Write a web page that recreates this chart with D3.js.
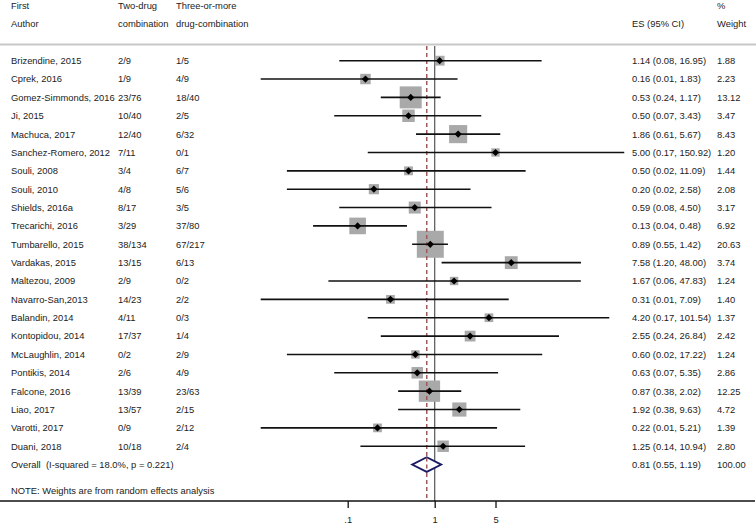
<!DOCTYPE html>
<html><head><meta charset="utf-8">
<script src="https://cdn.jsdelivr.net/npm/d3@7"></script>
<style>body{margin:0;background:#fff}svg{display:block}text{font-family:"Liberation Sans",Arial,sans-serif;font-size:9.4px;fill:#222;white-space:pre}</style>
</head><body><svg id="c" width="756" height="524"></svg>
<script>
const studies = ["Brizendine, 2015","Cprek, 2016","Gomez-Simmonds, 2016","Ji, 2015","Machuca, 2017","Sanchez-Romero, 2012","Souli, 2008","Souli, 2010","Shields, 2016a","Trecarichi, 2016","Tumbarello, 2015","Vardakas, 2015","Maltezou, 2009","Navarro-San,2013","Balandin, 2014","Kontopidou, 2014","McLaughlin, 2014","Pontikis, 2014","Falcone, 2016","Liao, 2017","Varotti, 2017","Duani, 2018"];
const twoDrug = ["2/9","1/9","23/76","10/40","12/40","7/11","3/4","4/8","8/17","3/29","38/134","13/15","2/9","14/23","4/11","17/37","0/2","2/6","13/39","13/57","0/9","10/18"];
const threeDrug = ["1/5","4/9","18/40","2/5","6/32","0/1","6/7","5/6","3/5","37/80","67/217","6/13","0/2","2/2","0/3","1/4","2/9","4/9","23/63","2/15","2/12","2/4"];
const es = [1.14,0.16,0.53,0.50,1.86,5.00,0.50,0.20,0.59,0.13,0.89,7.58,1.67,0.31,4.20,2.55,0.60,0.63,0.87,1.92,0.22,1.25];
const lo = [0.08,0.01,0.24,0.07,0.61,0.17,0.02,0.02,0.08,0.04,0.55,1.20,0.06,0.01,0.17,0.24,0.02,0.07,0.38,0.38,0.01,0.14];
const hi = [16.95,1.83,1.17,3.43,5.67,150.92,11.09,2.58,4.50,0.48,1.42,48.00,47.83,7.09,101.54,26.84,17.22,5.35,2.02,9.63,5.21,10.94];
const weight = [1.88,2.23,13.12,3.47,8.43,1.20,1.44,2.08,3.17,6.92,20.63,3.74,1.24,1.40,1.37,2.42,1.24,2.86,12.25,4.72,1.39,2.80];
const overall = {label:"Overall  (I-squared = 18.0%, p = 0.221)", es:0.81, lo:0.55, hi:1.19, weight:100.00};
const tickValues = [0.1, 1, 5];
const tickLabels = [".1","1","5"];

const svg = d3.select("#c");
const fmt = d3.format(".2f");
const x = d3.scaleLog().domain([0.01,100]).range([260.7,608.7]);
const rowNames = studies.concat(["Overall"]);
const y = d3.scaleBand().domain(rowNames).range([51.5, 51.5+rowNames.length*18.36]).padding(0);
const yc = n => y(n) + y.bandwidth()/2;
const boxSide = w => 2.36 + 5.42*Math.sqrt(w);

// header
const hdr = [[11,"First","Author"],[118,"Two-drug","combination"],[176,"Three-or-more","drug-combination"],[632,"","ES (95% CI)"],[717,"%","Weight"]];
hdr.forEach(h=>{
  svg.append("text").attr("x",h[0]).attr("y",8.6).text(h[1]);
  svg.append("text").attr("x",h[0]).attr("y",26.6).text(h[2]);
});
svg.append("line").attr("x1",0).attr("x2",756).attr("y1",44.5).attr("y2",44.5).attr("stroke","#c8c8c8").attr("stroke-width",2);

const axisY = 501;
// null line
svg.append("line").attr("x1",x(1)).attr("x2",x(1)).attr("y1",46).attr("y2",axisY).attr("stroke","#555").attr("stroke-width",1.2);

const data = studies.map((s,i)=>({s,t:twoDrug[i],r:threeDrug[i],es:es[i],lo:lo[i],hi:hi[i],w:weight[i]}));

// boxes
svg.selectAll("rect.box").data(data).join("rect").attr("class","box")
  .attr("x",d=>x(d.es)-boxSide(d.w)/2).attr("y",d=>yc(d.s)-boxSide(d.w)/2)
  .attr("width",d=>boxSide(d.w)).attr("height",d=>boxSide(d.w)).attr("fill","#a9a9a9");
// dashed overall line
svg.append("line").attr("x1",x(overall.es)).attr("x2",x(overall.es)).attr("y1",46).attr("y2",axisY)
  .attr("stroke","#9e5a5c").attr("stroke-width",1.5).attr("stroke-dasharray","4,3");
// CI lines
svg.selectAll("line.ci").data(data).join("line").attr("class","ci")
  .attr("x1",d=>x(d.lo)).attr("x2",d=>x(d.hi)).attr("y1",d=>yc(d.s)).attr("y2",d=>yc(d.s))
  .attr("stroke","#111").attr("stroke-width",1.6);
// point diamonds
svg.selectAll("path.pt").data(data).join("path").attr("class","pt")
  .attr("d",d=>{const cx=x(d.es),cy=yc(d.s),r=3.6;return `M${cx-r},${cy}L${cx},${cy-r}L${cx+r},${cy}L${cx},${cy+r}Z`;})
  .attr("fill","#000");
// overall diamond
{
  const cy=yc("Overall");
  svg.append("path").attr("d",`M${x(overall.lo)},${cy}L${x(overall.es)},${cy-7.3}L${x(overall.hi)},${cy}L${x(overall.es)},${cy+7.3}Z`)
    .attr("fill","#fff").attr("stroke","#1c1c64").attr("stroke-width",1.8);
  svg.append("line").attr("x1",x(overall.es)).attr("x2",x(overall.es)).attr("y1",cy-7).attr("y2",cy+7)
    .attr("stroke","#9e5a5c").attr("stroke-width",1.5).attr("stroke-dasharray","4,3");
}
// text columns
const tb = 3.4;
data.forEach(d=>{
  const yy=yc(d.s)+tb;
  svg.append("text").attr("x",11).attr("y",yy).text(d.s);
  svg.append("text").attr("x",118).attr("y",yy).text(d.t);
  svg.append("text").attr("x",176).attr("y",yy).text(d.r);
  svg.append("text").attr("x",632).attr("y",yy).text(`${fmt(d.es)} (${fmt(d.lo)}, ${fmt(d.hi)})`);
  svg.append("text").attr("x",717).attr("y",yy).text(fmt(d.w));
});
{
  const yy=yc("Overall")+tb;
  svg.append("text").attr("x",11).attr("y",yy).text(overall.label);
  svg.append("text").attr("x",632).attr("y",yy).text(`${fmt(overall.es)} (${fmt(overall.lo)}, ${fmt(overall.hi)})`);
  svg.append("text").attr("x",717).attr("y",yy).text(fmt(overall.weight));
}
svg.append("text").attr("x",11).attr("y",494.3).text("NOTE: Weights are from random effects analysis");

// axis
svg.append("line").attr("x1",0).attr("x2",755).attr("y1",axisY).attr("y2",axisY).attr("stroke","#111").attr("stroke-width",1.3);
const ax = svg.append("g").attr("transform",`translate(0,${axisY})`)
  .call(d3.axisBottom(x).tickValues(tickValues).tickFormat((d,i)=>tickLabels[i]).tickSize(7).tickPadding(8.3));
ax.select(".domain").remove();
ax.selectAll(".tick line").attr("stroke","#111").attr("stroke-width",1.3);
ax.selectAll(".tick text").style("font-family","'Liberation Sans',Arial,sans-serif").style("font-size","9.4px").attr("fill","#222");
</script></body></html>
